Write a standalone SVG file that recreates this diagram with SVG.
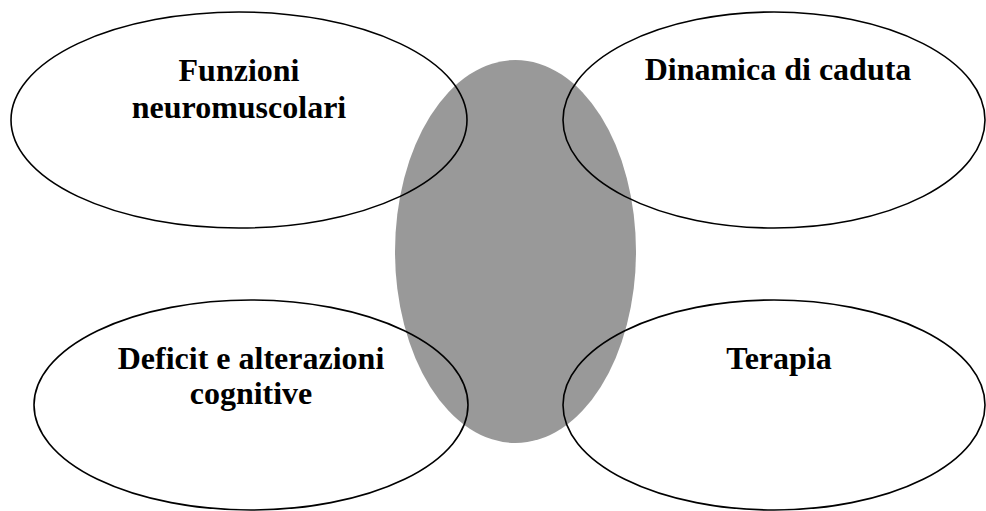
<svg xmlns="http://www.w3.org/2000/svg" width="986" height="511" viewBox="0 0 986 511">
<style>
.bg{fill:#ffffff}
.core{fill:#999999;stroke:none}
.ring{fill:none;stroke:#000000;stroke-width:1.6}
.lbl{font-family:"Liberation Serif","Times New Roman",serif;font-weight:bold;font-size:32px;fill:#000000;text-anchor:middle}
</style>
<rect class="bg" x="0" y="0" width="986" height="511"/>
<g id="center">
<ellipse class="core" cx="515.5" cy="251.5" rx="120.5" ry="191.5"/>
</g>
<g id="connectors"></g>
<g id="funzioni">
<ellipse class="ring" cx="239" cy="120" rx="228" ry="108"/>
<text class="lbl" x="239" y="81">Funzioni</text>
<text class="lbl" x="239" y="118">neuromuscolari</text>
</g>
<g id="dinamica">
<ellipse class="ring" cx="774" cy="120" rx="211" ry="108"/>
<text class="lbl" x="778" y="80">Dinamica di caduta</text>
</g>
<g id="deficit">
<ellipse class="ring" cx="251" cy="405" rx="217" ry="105"/>
<text class="lbl" x="251" y="369">Deficit e alterazioni</text>
<text class="lbl" x="251" y="404">cognitive</text>
</g>
<g id="terapia">
<ellipse class="ring" cx="774" cy="405" rx="211" ry="105"/>
<text class="lbl" x="779" y="369">Terapia</text>
</g>
</svg>
